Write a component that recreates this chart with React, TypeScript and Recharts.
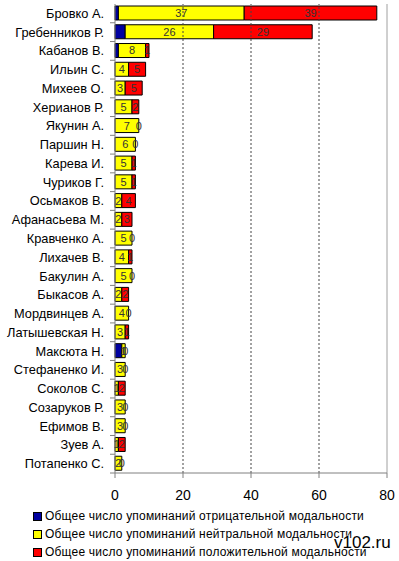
import { Bar, BarChart, LabelList, ReferenceLine, XAxis, YAxis } from "recharts";

const names = [
  "Бровко А.",
  "Гребенников Р.",
  "Кабанов В.",
  "Ильин С.",
  "Михеев О.",
  "Херианов Р.",
  "Якунин А.",
  "Паршин Н.",
  "Карева И.",
  "Чуриков Г.",
  "Осьмаков В.",
  "Афанасьева М.",
  "Кравченко А.",
  "Лихачев В.",
  "Бакулин А.",
  "Быкасов А.",
  "Мордвинцев А.",
  "Латышевская Н.",
  "Максюта Н.",
  "Стефаненко И.",
  "Соколов С.",
  "Созаруков Р.",
  "Ефимов В.",
  "Зуев А.",
  "Потапенко С.",
];
const negative = [1, 3, 1, 0, 0, 0, 0, 0, 0, 0, 0, 0, 0, 0, 0, 0, 0, 0, 2, 0, 0, 0, 0, 0, 0];
const neutral = [37, 26, 8, 4, 3, 5, 7, 6, 5, 5, 2, 2, 5, 4, 5, 2, 4, 3, 1, 3, 1, 3, 3, 1, 2];
const positive = [39, 29, 1, 5, 5, 2, 0, 0, 1, 1, 4, 3, 0, 1, 0, 2, 0, 1, 0, 0, 2, 0, 0, 2, 0];
const xTicks = [0, 20, 40, 60, 80];

const series = [
  { key: "negative", label: "Общее число упоминаний отрицательной модальности", color: "#0000a0" },
  { key: "neutral", label: "Общее число упоминаний нейтральной модальности", color: "#ffff00" },
  { key: "positive", label: "Общее число упоминаний положительной модальности", color: "#ff0000" },
];

const data = names.map((name, i) => ({
  name,
  negative: negative[i],
  neutral: neutral[i],
  positive: positive[i],
}));

const font = "'Liberation Sans', Arial, sans-serif";
const band = (473 - 4) / names.length;

function NameTick(props: any) {
  const { x, y, payload } = props;
  return (
    <g>
      <text x={x - 3} y={y} dy="0.35em" textAnchor="end" fontSize={12.8} fontFamily={font} fill="#000">
        {payload.value}
      </text>
      <line x1={x + 3} x2={x + 8} y1={y + band / 2} y2={y + band / 2} stroke="#808080" />
    </g>
  );
}

function LabelText({ x, y, value }: { x: number; y: number; value: any }) {
  return (
    <text x={x} y={y} dy="0.36em" textAnchor="middle" fontSize={11} fontFamily={font} fill="#333">
      {value}
    </text>
  );
}

// neutral label; the zero "positive" label sits at the end of the neutral segment
function NeutralLabel(props: any) {
  const { x, y, width, height, value, index } = props;
  const cx = Number(x) + Number(width) / 2;
  const cy = Number(y) + Number(height) / 2;
  return (
    <g>
      <LabelText x={cx} y={cy} value={value} />
      {positive[index] === 0 && <LabelText x={Number(x) + Number(width)} y={cy} value={0} />}
    </g>
  );
}

function PositiveLabel(props: any) {
  const { x, y, width, height, value } = props;
  if (!value) return null;
  return <LabelText x={Number(x) + Number(width) / 2} y={Number(y) + Number(height) / 2} value={value} />;
}

export default function App() {
  return (
    <div style={{ position: "absolute", left: 0, top: 0, width: 399, height: 561, background: "#fff", fontFamily: font }}>
      <BarChart
        width={399}
        height={505}
        layout="vertical"
        data={data}
        margin={{ top: 4, right: 12, bottom: 0, left: 0 }}
        barSize={14}
      >
        <XAxis
          type="number"
          domain={[0, 80]}
          ticks={xTicks}
          height={32}
          axisLine={{ stroke: "#808080" }}
          tickLine={{ stroke: "#808080" }}
          tickSize={5}
          tickMargin={12}
          tick={{ fill: "#000", fontSize: 14, fontFamily: font }}
        />
        <XAxis
          xAxisId="top"
          orientation="top"
          type="number"
          domain={[0, 80]}
          height={0}
          tick={false}
          tickLine={false}
          axisLine={{ stroke: "#a0a0a0" }}
        />
        <YAxis
          type="category"
          dataKey="name"
          width={115}
          axisLine={{ stroke: "#808080" }}
          tickLine={false}
          interval={0}
          tick={<NameTick />}
        />
        <ReferenceLine x={20} stroke="#444" strokeDasharray="2 2" />
        <ReferenceLine x={40} stroke="#444" strokeDasharray="2 2" />
        <ReferenceLine x={60} stroke="#444" strokeDasharray="2 2" />
        <ReferenceLine x={80} stroke="#a0a0a0" />
        <Bar dataKey="negative" stackId="a" fill={series[0].color} stroke="#000" isAnimationActive={false} />
        <Bar dataKey="neutral" stackId="a" fill={series[1].color} stroke="#000" isAnimationActive={false}>
          <LabelList dataKey="neutral" content={<NeutralLabel />} />
        </Bar>
        <Bar dataKey="positive" stackId="a" fill={series[2].color} stroke="#000" isAnimationActive={false}>
          <LabelList dataKey="positive" content={<PositiveLabel />} />
        </Bar>
      </BarChart>
      <div style={{ position: "absolute", left: 33, top: 507 }}>
        {series.map((s) => (
          <div key={s.key} style={{ display: "flex", alignItems: "center", height: 18, fontSize: 12, color: "#000", letterSpacing: 0.2 }}>
            <span
              style={{
                display: "inline-block",
                width: 7,
                height: 7,
                background: s.color,
                border: "1px solid #000",
                marginRight: 3,
              }}
            />
            {s.label}
          </div>
        ))}
      </div>
      <div
        style={{
          position: "absolute",
          left: 334,
          top: 533,
          fontSize: 17,
          color: "#000",
          textShadow: "0 0 2px #fff, 0 0 2px #fff",
        }}
      >
        v102.ru
      </div>
    </div>
  );
}
